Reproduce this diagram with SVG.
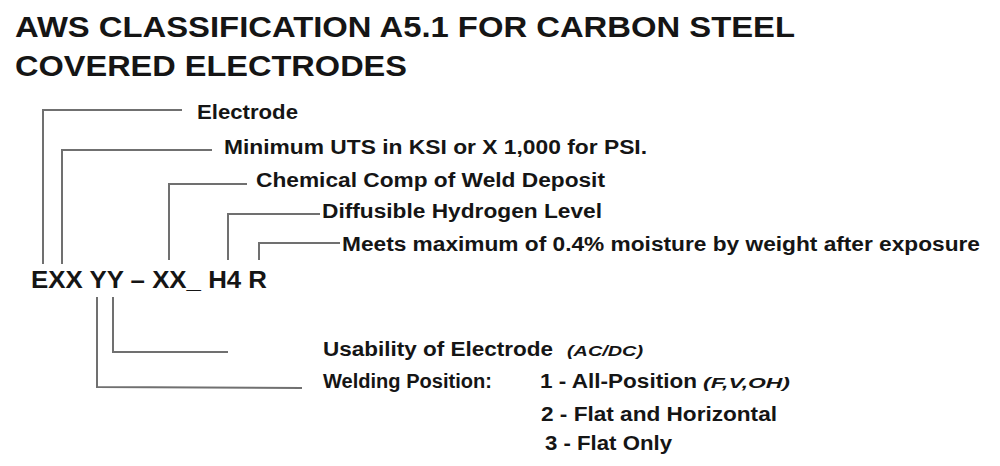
<svg xmlns="http://www.w3.org/2000/svg" width="1000" height="466" viewBox="0 0 1000 466">
<style>
text{font-family:"Liberation Sans",Arial,sans-serif;font-weight:bold;fill:#151515}
.title{font-size:29px}
.lbl{font-size:20px}
.code{font-size:24px}
.it{font-size:15px;font-style:italic}
.conn{fill:none;stroke:#707070;stroke-width:2}
</style>
<rect width="1000" height="466" fill="#fff"/>
<g id="title">
<text class="title" x="15" y="37" textLength="780" lengthAdjust="spacingAndGlyphs">AWS CLASSIFICATION A5.1 FOR CARBON STEEL</text>
<text class="title" x="15" y="76" textLength="392" lengthAdjust="spacingAndGlyphs">COVERED ELECTRODES</text>
</g>
<g id="code"><text class="code" x="31" y="288" textLength="236" lengthAdjust="spacingAndGlyphs">EXX YY – XX_ H4 R</text></g>
<g id="connectors">
<polyline class="conn" points="43,264 43,110 182,110"/>
<polyline class="conn" points="62,264 62,150 212,150"/>
<polyline class="conn" points="169,260 169,184 247,184"/>
<polyline class="conn" points="228,260 228,214 320,214"/>
<polyline class="conn" points="259,260 259,243 340,243"/>
<polyline class="conn" points="113,297 113,352 228,352"/>
<polyline class="conn" points="97,297 97,387 302,388"/>
</g>
<g id="electrode"><text class="lbl" x="197" y="119" textLength="101" lengthAdjust="spacingAndGlyphs">Electrode</text></g>
<g id="uts"><text class="lbl" x="224" y="154" textLength="423" lengthAdjust="spacingAndGlyphs">Minimum UTS in KSI or X 1,000 for PSI.</text></g>
<g id="chem"><text class="lbl" x="256" y="187" textLength="349" lengthAdjust="spacingAndGlyphs">Chemical Comp of Weld Deposit</text></g>
<g id="hydrogen"><text class="lbl" x="322" y="218" textLength="280" lengthAdjust="spacingAndGlyphs">Diffusible Hydrogen Level</text></g>
<g id="moisture"><text class="lbl" x="342" y="251" textLength="638" lengthAdjust="spacingAndGlyphs">Meets maximum of 0.4% moisture by weight after exposure</text></g>
<g id="usability">
<text class="lbl" x="323" y="356" textLength="230" lengthAdjust="spacingAndGlyphs">Usability of Electrode</text>
<text class="it" x="567" y="356" textLength="76" lengthAdjust="spacingAndGlyphs">(AC/DC)</text>
</g>
<g id="position">
<text class="lbl" x="323" y="388" textLength="169" lengthAdjust="spacingAndGlyphs">Welding Position:</text>
<text class="lbl" x="540" y="388" textLength="157" lengthAdjust="spacingAndGlyphs">1 - All-Position</text>
<text class="it" x="703" y="388" textLength="87" lengthAdjust="spacingAndGlyphs">(F,V,OH)</text>
<text class="lbl" x="541" y="421" textLength="236" lengthAdjust="spacingAndGlyphs">2 - Flat and Horizontal</text>
<text class="lbl" x="545" y="450" textLength="127" lengthAdjust="spacingAndGlyphs">3 - Flat Only</text>
</g>
</svg>
